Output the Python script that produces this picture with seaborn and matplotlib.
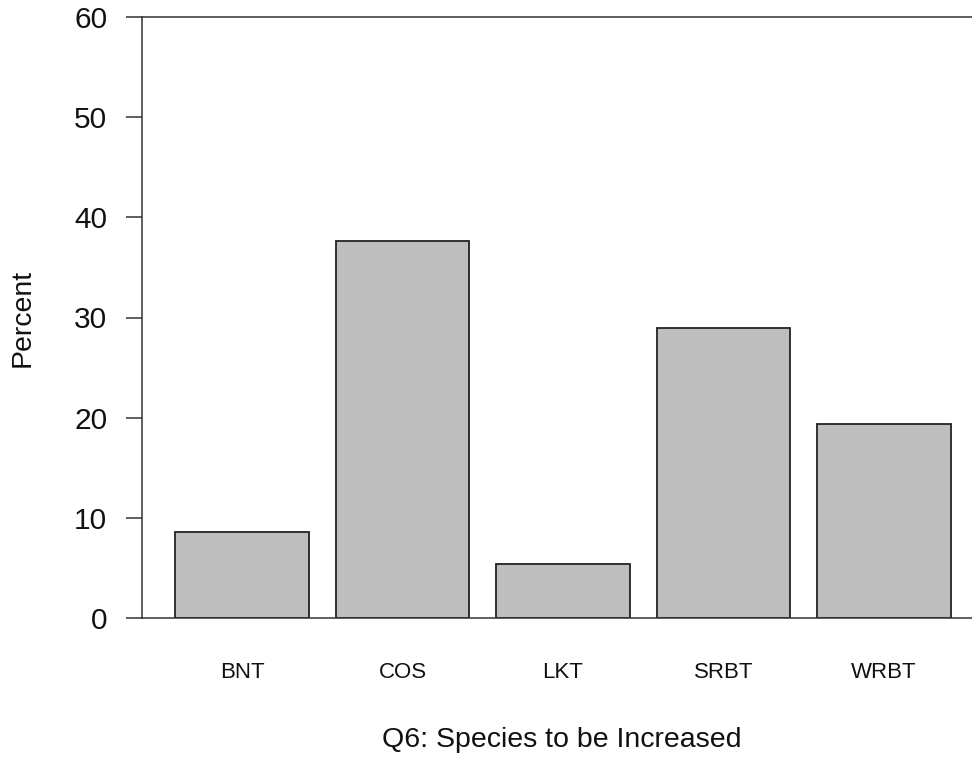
import matplotlib
matplotlib.use("Agg")
import matplotlib.pyplot as plt
import seaborn as sns
import pandas as pd

species = ["BNT", "COS", "LKT", "SRBT", "WRBT"]
percent = [8.6, 37.6, 5.4, 29.0, 19.4]
y_ticks = [0, 10, 20, 30, 40, 50, 60]

df = pd.DataFrame({"species": species, "percent": percent})

sns.set_theme(style="white")
plt.rcParams["font.family"] = ["Liberation Sans", "DejaVu Sans"]

fig = plt.figure(figsize=(9.72, 7.57), dpi=100)
ax = fig.add_axes([142 / 972, 1 - 618 / 757, 1 - 142 / 972, (618 - 17) / 757])

sns.barplot(data=df, x="species", y="percent", order=species, color="#BEBEBE",
            saturation=1, width=1 / 1.2, edgecolor="#222222", linewidth=1.3, ax=ax)

ax.set_ylim(0, 60)
ax.set_xlim(-0.623, 4.548)
ax.set_yticks(y_ticks)
ax.set_yticklabels([str(v) for v in y_ticks])

for s in ["left", "top", "bottom"]:
    ax.spines[s].set_visible(True)
    ax.spines[s].set_color("#333333")
    ax.spines[s].set_linewidth(1.1)
ax.spines["right"].set_visible(False)

ax.tick_params(axis="y", which="both", left=True, length=11.5, width=1.1,
               color="#333333", pad=13.5, labelsize=21.5, labelcolor="#111111")
ax.tick_params(axis="x", which="both", bottom=False, length=0, pad=32,
               labelsize=16, labelcolor="#111111")

ax.set_xlabel("Q6: Species to be Increased", fontsize=20.5, color="#111111")
ax.set_ylabel("Percent", fontsize=20.5, color="#111111")
ax.xaxis.label.set_va("center")
ax.xaxis.set_label_coords(0.506, (618 - 740) / 601)
ax.yaxis.label.set_va("center")
ax.yaxis.set_label_coords((23 - 142) / 830, 0.5)

fig.savefig("out.png", dpi=100)
